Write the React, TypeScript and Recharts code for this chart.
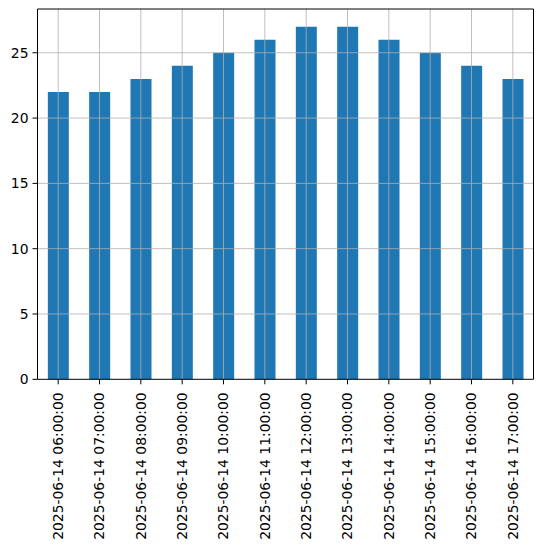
import { BarChart, Bar, XAxis, YAxis, ReferenceLine } from "recharts";

const times = [
  "2025-06-14 06:00:00",
  "2025-06-14 07:00:00",
  "2025-06-14 08:00:00",
  "2025-06-14 09:00:00",
  "2025-06-14 10:00:00",
  "2025-06-14 11:00:00",
  "2025-06-14 12:00:00",
  "2025-06-14 13:00:00",
  "2025-06-14 14:00:00",
  "2025-06-14 15:00:00",
  "2025-06-14 16:00:00",
  "2025-06-14 17:00:00",
];
const values = [22, 22, 23, 24, 25, 26, 27, 27, 26, 25, 24, 23];
const yTicks = [0, 5, 10, 15, 20, 25];
const yMax = 28.35;
const lastIndex = times.length - 1;

const data = times.map((t, i) => ({ time: t, value: values[i] }));

const FONT = "DejaVu Sans, sans-serif";
const GRID = "#b0b0b0";

function RotatedTick(props: any) {
  const { x, y, payload } = props;
  return (
    <text
      transform={`translate(${x},${y + 6}) rotate(-90)`}
      textAnchor="end"
      dy="0.35em"
      fontFamily={FONT}
      fontSize={13.9}
      fill="#000"
    >
      {payload.value}
    </text>
  );
}

export default function App() {
  return (
    <div style={{ position: "absolute", left: 0, top: 0 }}>
      <BarChart
        width={543}
        height={545}
        data={data}
        margin={{ top: 9, right: 9.5, left: 0, bottom: 0 }}
        barCategoryGap="25%"
      >
        <XAxis
          dataKey="time"
          interval={0}
          height={165.7}
          tick={<RotatedTick />}
          tickSize={5}
          axisLine={{ stroke: "#000", strokeWidth: 1 }}
          tickLine={{ stroke: "#000" }}
        />
        <XAxis
          xAxisId="frame"
          type="number"
          domain={[0, lastIndex]}
          allowDataOverflow
          hide
        />
        <YAxis
          type="number"
          domain={[0, yMax]}
          ticks={yTicks}
          width={37.5}
          tickSize={5}
          tickMargin={4}
          tick={{ fontFamily: FONT, fontSize: 13.9, fill: "#000" }}
          axisLine={{ stroke: "#000", strokeWidth: 1 }}
          tickLine={{ stroke: "#000" }}
        />
        <Bar dataKey="value" fill="#1f77b4" isAnimationActive={false} />
        {yTicks.slice(1).map((v) => (
          <ReferenceLine key={"h" + v} y={v} stroke={GRID} strokeWidth={0.8} />
        ))}
        {times.map((t) => (
          <ReferenceLine key={"v" + t} x={t} stroke={GRID} strokeWidth={0.8} />
        ))}
        <ReferenceLine y={yMax} stroke="#000" strokeWidth={1} />
        <ReferenceLine xAxisId="frame" x={lastIndex} stroke="#000" strokeWidth={1} />
      </BarChart>
    </div>
  );
}
